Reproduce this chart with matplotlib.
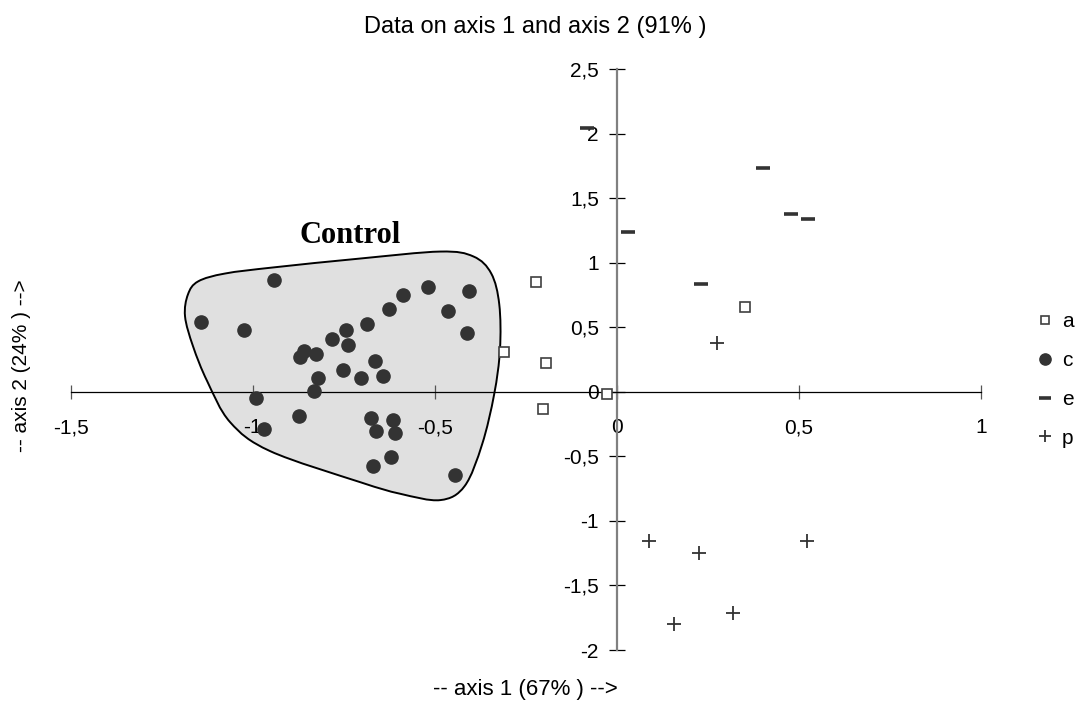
import numpy as np
import matplotlib.pyplot as plt
from matplotlib.path import Path
from matplotlib.patches import PathPatch
from matplotlib.ticker import FuncFormatter

plt.rcParams['font.family'] = ['Liberation Sans', 'DejaVu Sans']
plt.rcParams['axes.unicode_minus'] = False

# group a (open squares)
a_x = [-0.223, -0.310, -0.196, -0.202, -0.026, 0.352]
a_y = [0.852, 0.311, 0.226, -0.131, -0.019, 0.653]

# group c (filled dots, the "Control" cluster)
c_x = [-0.943, -1.143, -1.025, -0.520, -0.406, -0.588, -0.626, -0.465,
       -0.686, -0.745, -0.411, -0.783, -0.739, -0.858, -0.869, -0.826,
       -0.664, -0.751, -0.820, -0.703, -0.643, -0.831, -0.992, -0.874,
       -0.969, -0.675, -0.616, -0.662, -0.610, -0.621, -0.669, -0.444]
c_y = [0.865, 0.540, 0.481, 0.808, 0.783, 0.752, 0.638, 0.623,
       0.525, 0.481, 0.453, 0.411, 0.365, 0.316, 0.270, 0.296,
       0.241, 0.169, 0.107, 0.110, 0.125, 0.006, -0.049, -0.189,
       -0.290, -0.205, -0.215, -0.301, -0.319, -0.504, -0.573, -0.645]

# group e (dashes)
e_x = [-0.082, 0.031, 0.400, 0.478, 0.526, 0.230]
e_y = [2.040, 1.239, 1.736, 1.376, 1.341, 0.837]

# group p (plus signs)
p_x = [0.274, 0.087, 0.226, 0.522, 0.157, 0.318]
p_y = [0.375, -1.154, -1.251, -1.154, -1.798, -1.711]

# outline drawn around the control cluster
blob_x = [-1.186, -1.178, -1.150, -1.076, -0.944, -0.705, -0.485, -0.394,
          -0.345, -0.323, -0.321, -0.337, -0.370, -0.418, -0.485, -0.595,
          -0.705, -0.952, -1.062, -1.125, -1.164]
blob_y = [0.584, 0.754, 0.855, 0.916, 0.963, 1.032, 1.086, 1.048,
          0.916, 0.677, 0.329, -0.019, -0.406, -0.730, -0.839, -0.790,
          -0.700, -0.460, -0.236, 0.081, 0.352]

x_ticks = [-1.5, -1, -0.5, 0, 0.5, 1]
y_ticks = [-2, -1.5, -1, -0.5, 0, 0.5, 1, 1.5, 2, 2.5]


def smooth_closed_path(xs, ys):
    """Closed Bezier path through the points (Catmull-Rom style handles)."""
    pts = np.column_stack([xs, ys])
    n = len(pts)
    verts = [pts[0]]
    codes = [Path.MOVETO]
    for i in range(n):
        p0, p1, p2, p3 = pts[i - 1], pts[i], pts[(i + 1) % n], pts[(i + 2) % n]
        verts += [p1 + (p2 - p0) / 6, p2 - (p3 - p1) / 6, p2]
        codes += [Path.CURVE4] * 3
    verts.append(pts[0])
    codes.append(Path.CLOSEPOLY)
    return Path(verts, codes)


def comma(v, pos):
    return ('%g' % v).replace('.', ',')


fig = plt.figure(figsize=(10.76, 7.02), dpi=100)
ax = fig.add_axes([70.7 / 1076, 1 - 650 / 702, (981 - 70.7) / 1076, (650 - 69) / 702])
ax.set_xlim(-1.5, 1)
ax.set_ylim(-2, 2.5)

blob = PathPatch(smooth_closed_path(blob_x, blob_y), facecolor='#e0e0e0',
                 edgecolor='black', lw=1.4, zorder=1)
ax.add_patch(blob)
ax.text(-0.733, 1.21, 'Control', family='Liberation Serif', fontweight='bold',
        fontsize=22, ha='center', va='center')

dark = '#333333'
h_a, = ax.plot(a_x, a_y, 's', ms=7, mfc='white', mec='#404040', mew=1.2,
               ls='none', zorder=3, clip_on=False)
h_c, = ax.plot(c_x, c_y, 'o', ms=9.5, color=dark, ls='none', zorder=3,
               clip_on=False)
h_e, = ax.plot(e_x, e_y, '_', ms=10, mew=2.6, color=dark, ls='none',
               zorder=3, clip_on=False)
h_p, = ax.plot(p_x, p_y, '+', ms=10, mew=1.3, color=dark, ls='none',
               zorder=3, clip_on=False)

for s in ['top', 'right']:
    ax.spines[s].set_visible(False)
ax.spines['left'].set_position('zero')
ax.spines['bottom'].set_position('zero')
ax.spines['left'].set_color('#808080')
ax.spines['left'].set_linewidth(1.6)
ax.spines['bottom'].set_color('black')
ax.spines['bottom'].set_linewidth(0.9)

ax.set_xticks(x_ticks)
ax.set_yticks(y_ticks)
ax.xaxis.set_major_formatter(FuncFormatter(comma))
ax.yaxis.set_major_formatter(FuncFormatter(comma))
ax.tick_params(axis='x', direction='inout', length=10, width=0.9,
               color='#555555', pad=14, labelsize=15)
ax.tick_params(axis='y', direction='inout', length=12, width=0.9,
               color='black', pad=7, labelsize=15)

fig.text(535 / 1076, 1 - 27 / 702, 'Data on axis 1 and axis 2 (91% )',
         ha='center', va='center', fontsize=17)
fig.text(525 / 1076, 1 - 690 / 702, '-- axis 1 (67% ) -->',
         ha='center', va='center', fontsize=16)
fig.text(22 / 1076, 1 - 366 / 702, '-- axis 2 (24% ) -->',
         ha='center', va='center', rotation=90, fontsize=15)

fig.legend([h_a, h_c, h_e, h_p], ['a', 'c', 'e', 'p'], loc='center left',
           bbox_to_anchor=(1037 / 1076, 1 - 380 / 702), frameon=False,
           borderpad=0, borderaxespad=0,
           handlelength=0.8, handletextpad=0.4, labelspacing=0.95,
           fontsize=15, markerscale=0.85)

fig.savefig('out.png', dpi=100)
